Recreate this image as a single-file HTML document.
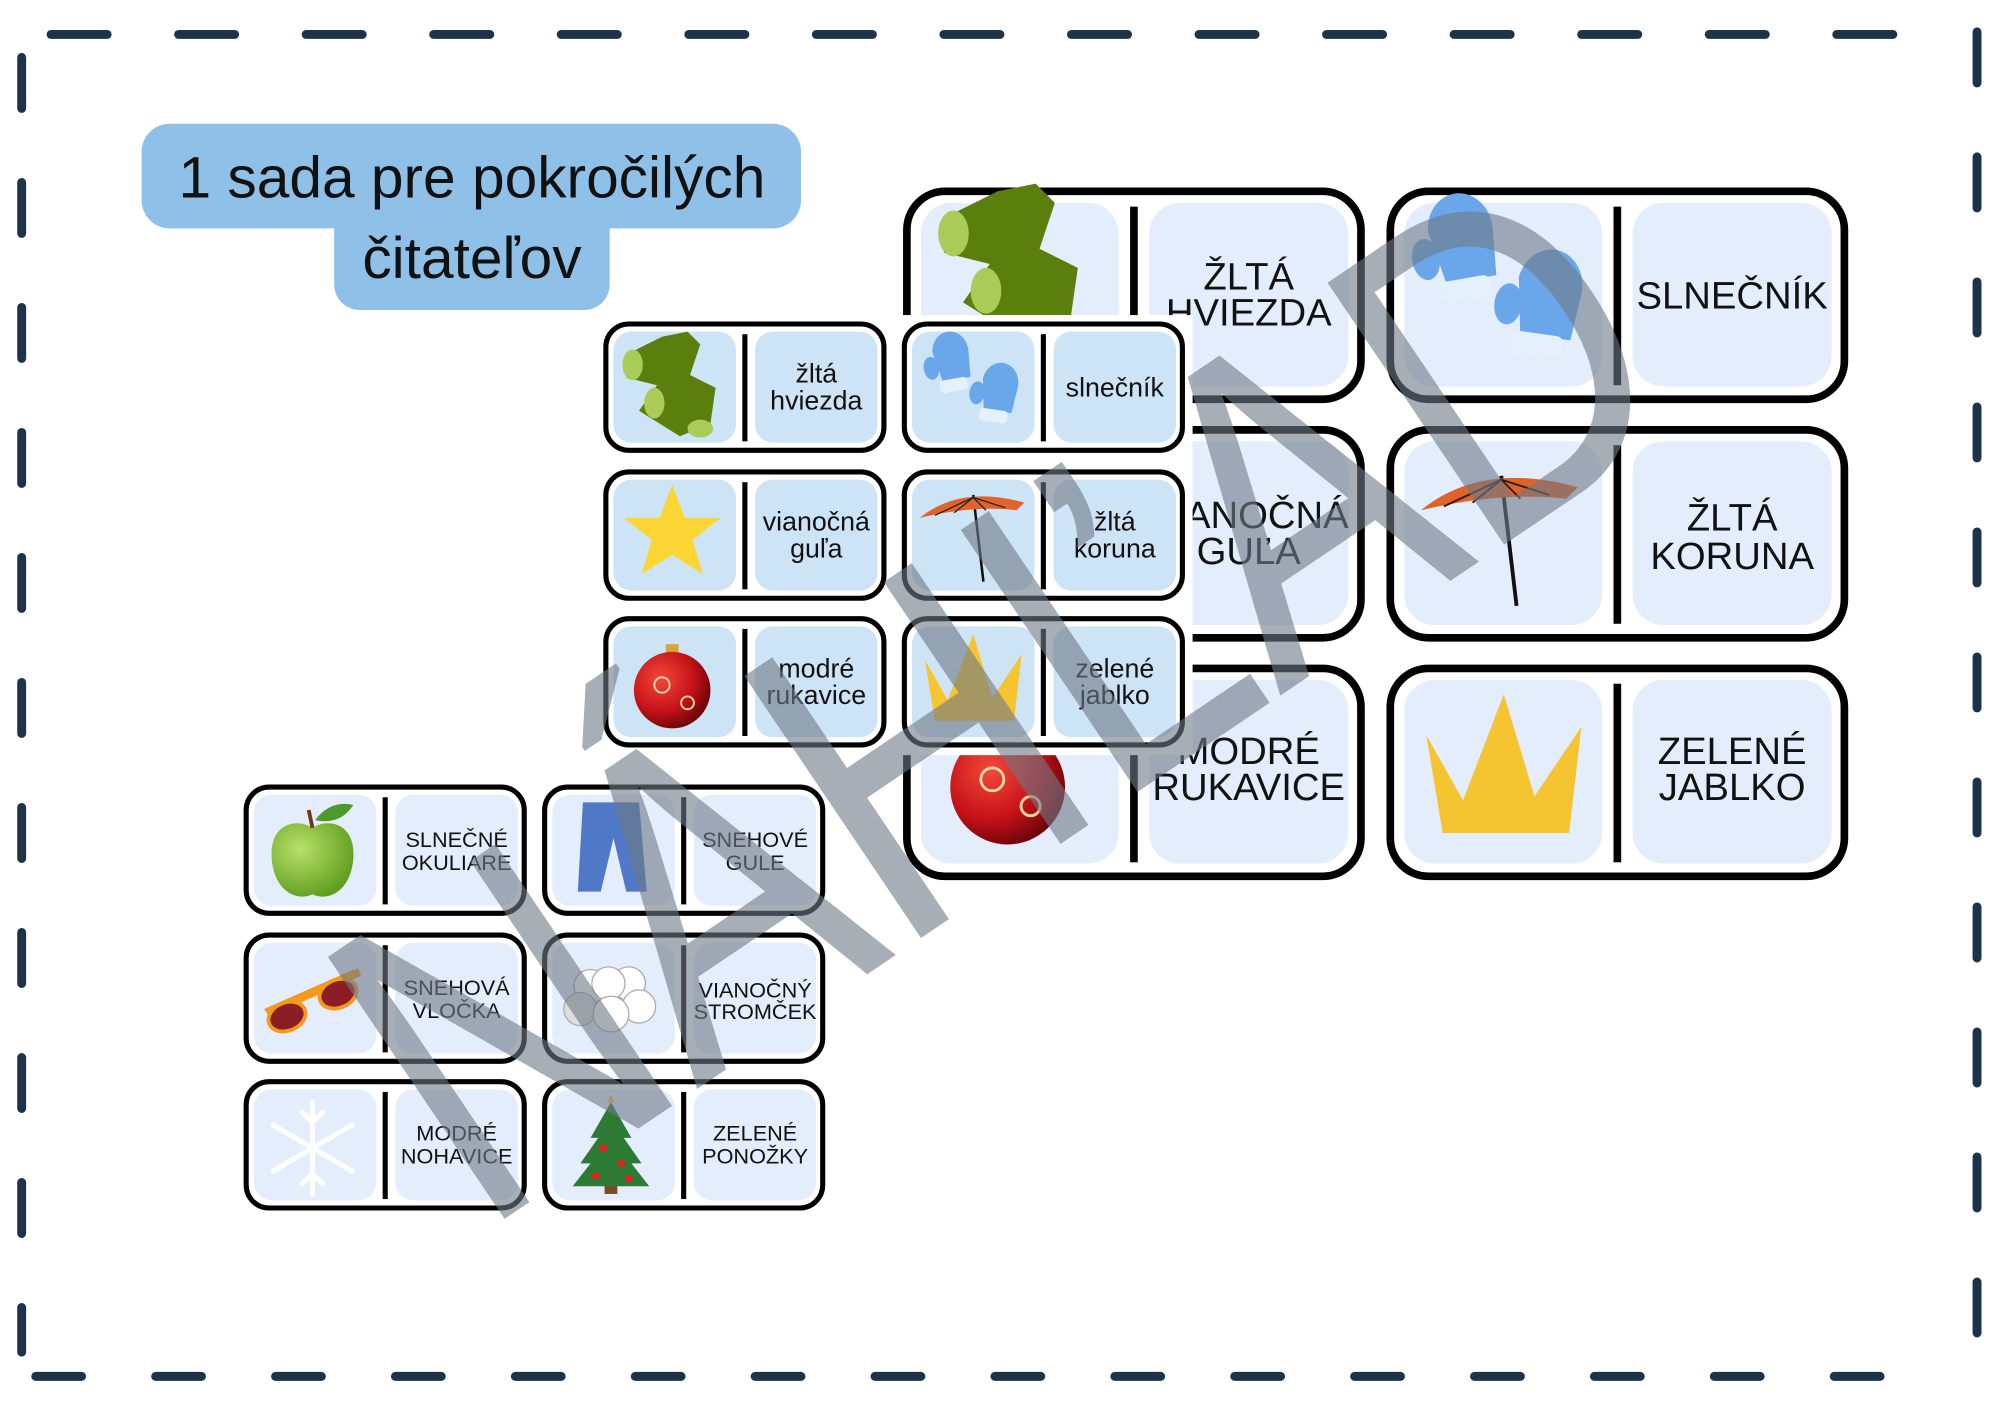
<!DOCTYPE html>
<html><head><meta charset="utf-8"><style>
html,body{margin:0;padding:0;background:#fff;width:2000px;height:1414px;overflow:hidden}
svg{display:block}
text{font-family:"Liberation Sans",sans-serif;fill:#111}
</style></head><body>
<svg width="2000" height="1414" viewBox="0 0 1568 1108.5" preserveAspectRatio="none" xmlns="http://www.w3.org/2000/svg">
<defs>
<radialGradient id="rb" cx="0.35" cy="0.35" r="0.7"><stop offset="0" stop-color="#f04a3a"/><stop offset="0.6" stop-color="#c8121a"/><stop offset="1" stop-color="#6a0508"/></radialGradient>
<radialGradient id="ap" cx="0.35" cy="0.35" r="0.7"><stop offset="0" stop-color="#b9e06a"/><stop offset="1" stop-color="#5f9e1e"/></radialGradient>
<g id="sock">
<path d="M-8,-38 L12,-42 L22,-32 L14,-8 L34,2 L30,30 L6,40 L-26,20 L-12,0 L-36,-6 L-32,-26 Z" fill="#5b7f0c"/>
<ellipse cx="-31" cy="-16" rx="8" ry="12" fill="#a9cb57"/>
<ellipse cx="-14" cy="14" rx="8" ry="12" fill="#a9cb57"/>
<ellipse cx="22" cy="34" rx="10" ry="7" fill="#a9cb57"/>
</g>
<g id="mit"><path d="M-12,-18 a14,16 0 0 1 28,4 l-2,20 h-22 z" fill="#6aa6ea"/><ellipse cx="-15" cy="-6" rx="6" ry="9" fill="#6aa6ea"/><rect x="-11" y="5" width="22" height="10" rx="3" fill="#e4f0fa"/></g>
<g id="mittens"><use href="#mit" transform="translate(-17,-12) rotate(-10)"/><use href="#mit" transform="translate(17,12) rotate(8)"/></g>
<g id="star"><polygon points="0,-38 10,-12 38,-12 16,5 24,32 0,17 -24,32 -16,5 -38,-12 -10,-12" fill="#fbd533"/></g>
<g id="umb"><line x1="0" y1="-22" x2="8" y2="46" stroke="#111" stroke-width="2"/><path d="M-42,-4 Q-10,-30 40,-16 L34,-10 Q0,-14 -42,-4z" fill="#e2632a"/><path d="M-30,-6 L0,-20 M-15,-8 L0,-20 M10,-10 L0,-20 M25,-12 L0,-20" stroke="#222" stroke-width="1"/></g>
<g id="ball"><rect x="-5" y="-36" width="10" height="8" fill="#d4a43a"/><circle r="30" fill="url(#rb)"/><circle cx="-8" cy="-4" r="6" fill="none" stroke="#f3d6a4" stroke-width="1.5"/><circle cx="12" cy="10" r="5" fill="none" stroke="#f3d6a4" stroke-width="1.5"/></g>
<g id="crown"><polygon points="-38,-18 -20,14 0,-38 15,12 38,-22 32,30 -30,30" fill="#f5c531"/></g>
<g id="apple"><path d="M0,-22 C-12,-30 -34,-26 -32,2 C-30,28 -12,36 0,30 C12,36 30,28 32,2 C34,-26 12,-30 0,-22z" fill="url(#ap)"/><path d="M0,-22 L-3,-36" stroke="#6a3a1a" stroke-width="3"/><path d="M2,-28 Q14,-44 32,-40 Q22,-24 2,-28z" fill="#4c9a2a"/></g>
<g id="jeans"><path d="M-22,-36 H22 L28,34 H12 L2,-8 L-8,34 H-26 Z" fill="#4f78c6"/></g>
<g id="sung"><path d="M-38,8 L30,-22 L36,-24 L38,-18 L-34,14z" fill="#f39a1c"/><ellipse cx="-20" cy="14" rx="15" ry="11" fill="#8b1e24" stroke="#f39a1c" stroke-width="3" transform="rotate(-22,-20,14)"/><ellipse cx="20" cy="-4" rx="15" ry="11" fill="#8b1e24" stroke="#f39a1c" stroke-width="3" transform="rotate(-22,20,-4)"/></g>
<g id="snowb" fill="#fff" stroke="#aaa" stroke-width="1"><circle cx="-16" cy="-10" r="13"/><circle cx="14" cy="-12" r="13"/><circle cx="-2" cy="-12" r="13"/><circle cx="-24" cy="8" r="13" fill="#ddd"/><circle cx="22" cy="6" r="13"/><circle cx="0" cy="12" r="14"/></g>
<g id="flake" stroke="#fff" stroke-width="4" stroke-linecap="round"><line x1="0" y1="-36" x2="0" y2="36"/><line x1="-31" y1="-18" x2="31" y2="18"/><line x1="-31" y1="18" x2="31" y2="-18"/><path d="M-8,-28 L0,-20 L8,-28 M-8,28 L0,20 L8,28" fill="none"/></g>
<g id="tree"><rect x="-5" y="28" width="10" height="10" fill="#7a4a22"/><polygon points="0,-34 -16,-6 -10,-6 -24,14 -16,14 -30,32 30,32 16,14 24,14 10,-6 16,-6" fill="#2d7a35"/><circle cx="-6" cy="2" r="3" fill="#d22"/><circle cx="8" cy="14" r="3" fill="#d22"/><circle cx="-12" cy="24" r="3" fill="#d22"/><circle cx="14" cy="26" r="3" fill="#d22"/><polygon points="0,-40 3,-34 -3,-34" fill="#f5c531"/></g>
</defs>

<g stroke="#1c3349" stroke-width="7" stroke-linecap="round" fill="none">
<path d="M40,27 H1540" stroke-dasharray="44,56"/>
<path d="M17,45 V1060" stroke-dasharray="40,58"/>
<path d="M28,1079 H1530" stroke-dasharray="36,58"/>
<path d="M1550,25 V1055" stroke-dasharray="40,58"/>
</g>

<rect x="111" y="97" width="517" height="82" rx="22" fill="#8fc0e8"/>
<rect x="262" y="160" width="216" height="83" rx="20" fill="#8fc0e8"/>
<text x="370" y="155" font-size="46" text-anchor="middle">1 sada pre pokročilých</text>
<text x="370" y="218" font-size="46" text-anchor="middle">čitateľov</text>

<g>
<g transform="translate(708,147)"><rect x="3" y="3" width="356" height="163" rx="30" fill="#fff" stroke="#000" stroke-width="6"/><rect x="14" y="12" width="155" height="144" rx="24" fill="#e3edfc"/><rect x="178" y="15" width="6" height="140" fill="#000"/><rect x="193" y="12" width="156" height="144" rx="24" fill="#e3edfc"/><use href="#sock" transform="translate(86,60) scale(1.5)"/><text x="271" y="80" font-size="30" text-anchor="middle">ŽLTÁ</text><text x="271" y="108" font-size="30" text-anchor="middle">HVIEZDA</text></g>
<g transform="translate(1087,147)"><rect x="3" y="3" width="356" height="163" rx="30" fill="#fff" stroke="#000" stroke-width="6"/><rect x="14" y="12" width="155" height="144" rx="24" fill="#e3edfc"/><rect x="178" y="15" width="6" height="140" fill="#000"/><rect x="193" y="12" width="156" height="144" rx="24" fill="#e3edfc"/><use href="#mittens" transform="translate(90,84) scale(1.8)"/><text x="271" y="95" font-size="30" text-anchor="middle">SLNEČNÍK</text></g>
<g transform="translate(708,334)"><rect x="3" y="3" width="356" height="163" rx="30" fill="#fff" stroke="#000" stroke-width="6"/><rect x="14" y="12" width="155" height="144" rx="24" fill="#e3edfc"/><rect x="178" y="15" width="6" height="140" fill="#000"/><rect x="193" y="12" width="156" height="144" rx="24" fill="#e3edfc"/><text x="271" y="80" font-size="30" text-anchor="middle">VIANOČNÁ</text><text x="271" y="108" font-size="30" text-anchor="middle">GUĽA</text></g>
<g transform="translate(1087,334)"><rect x="3" y="3" width="356" height="163" rx="30" fill="#fff" stroke="#000" stroke-width="6"/><rect x="14" y="12" width="155" height="144" rx="24" fill="#e3edfc"/><rect x="178" y="15" width="6" height="140" fill="#000"/><rect x="193" y="12" width="156" height="144" rx="24" fill="#e3edfc"/><use href="#umb" transform="translate(90,72) scale(1.5)"/><text x="271" y="82" font-size="30" text-anchor="middle">ŽLTÁ</text><text x="271" y="112" font-size="30" text-anchor="middle">KORUNA</text></g>
<g transform="translate(708,521)"><rect x="3" y="3" width="356" height="163" rx="30" fill="#fff" stroke="#000" stroke-width="6"/><rect x="14" y="12" width="155" height="144" rx="24" fill="#e3edfc"/><rect x="178" y="15" width="6" height="140" fill="#000"/><rect x="193" y="12" width="156" height="144" rx="24" fill="#e3edfc"/><use href="#ball" transform="translate(82,96) scale(1.5)"/><text x="271" y="78" font-size="30" text-anchor="middle">MODRÉ</text><text x="271" y="106" font-size="30" text-anchor="middle">RUKAVICE</text></g>
<g transform="translate(1087,521)"><rect x="3" y="3" width="356" height="163" rx="30" fill="#fff" stroke="#000" stroke-width="6"/><rect x="14" y="12" width="155" height="144" rx="24" fill="#e3edfc"/><rect x="178" y="15" width="6" height="140" fill="#000"/><rect x="193" y="12" width="156" height="144" rx="24" fill="#e3edfc"/><use href="#crown" transform="translate(92,84) scale(1.6)"/><text x="271" y="78" font-size="30" text-anchor="middle">ZELENÉ</text><text x="271" y="106" font-size="30" text-anchor="middle">JABLKO</text></g>
</g>

<rect x="468" y="247" width="467" height="345" fill="#fff"/>
<g>
<g transform="translate(473,252)"><rect x="2" y="2" width="218" height="99" rx="18" fill="#fff" stroke="#000" stroke-width="4"/><rect x="8" y="8" width="96" height="87" rx="14" fill="#cde3f6"/><rect x="109" y="10" width="4" height="84" fill="#000"/><rect x="119" y="8" width="96" height="87" rx="14" fill="#cde3f6"/><use href="#sock" transform="translate(54,50)"/><text x="167" y="48" font-size="21" text-anchor="middle">žltá</text><text x="167" y="69" font-size="21" text-anchor="middle">hviezda</text></g>
<g transform="translate(707,252)"><rect x="2" y="2" width="218" height="99" rx="18" fill="#fff" stroke="#000" stroke-width="4"/><rect x="8" y="8" width="96" height="87" rx="14" fill="#cde3f6"/><rect x="109" y="10" width="4" height="84" fill="#000"/><rect x="119" y="8" width="96" height="87" rx="14" fill="#cde3f6"/><use href="#mittens" transform="translate(56,52)"/><text x="167" y="59" font-size="21" text-anchor="middle">slnečník</text></g>
<g transform="translate(473,368)"><rect x="2" y="2" width="218" height="99" rx="18" fill="#fff" stroke="#000" stroke-width="4"/><rect x="8" y="8" width="96" height="87" rx="14" fill="#cde3f6"/><rect x="109" y="10" width="4" height="84" fill="#000"/><rect x="119" y="8" width="96" height="87" rx="14" fill="#cde3f6"/><use href="#star" transform="translate(54,50)"/><text x="167" y="48" font-size="21" text-anchor="middle">vianočná</text><text x="167" y="69" font-size="21" text-anchor="middle">guľa</text></g>
<g transform="translate(707,368)"><rect x="2" y="2" width="218" height="99" rx="18" fill="#fff" stroke="#000" stroke-width="4"/><rect x="8" y="8" width="96" height="87" rx="14" fill="#cde3f6"/><rect x="109" y="10" width="4" height="84" fill="#000"/><rect x="119" y="8" width="96" height="87" rx="14" fill="#cde3f6"/><use href="#umb" transform="translate(56,42)"/><text x="167" y="48" font-size="21" text-anchor="middle">žltá</text><text x="167" y="69" font-size="21" text-anchor="middle">koruna</text></g>
<g transform="translate(473,483)"><rect x="2" y="2" width="218" height="99" rx="18" fill="#fff" stroke="#000" stroke-width="4"/><rect x="8" y="8" width="96" height="87" rx="14" fill="#cde3f6"/><rect x="109" y="10" width="4" height="84" fill="#000"/><rect x="119" y="8" width="96" height="87" rx="14" fill="#cde3f6"/><use href="#ball" transform="translate(54,58)"/><text x="167" y="48" font-size="21" text-anchor="middle">modré</text><text x="167" y="69" font-size="21" text-anchor="middle">rukavice</text></g>
<g transform="translate(707,483)"><rect x="2" y="2" width="218" height="99" rx="18" fill="#fff" stroke="#000" stroke-width="4"/><rect x="8" y="8" width="96" height="87" rx="14" fill="#cde3f6"/><rect x="109" y="10" width="4" height="84" fill="#000"/><rect x="119" y="8" width="96" height="87" rx="14" fill="#cde3f6"/><use href="#crown" transform="translate(56,52)"/><text x="167" y="48" font-size="21" text-anchor="middle">zelené</text><text x="167" y="69" font-size="21" text-anchor="middle">jablko</text></g>
</g>

<g>
<g transform="translate(191,615)"><rect x="2" y="2" width="218" height="99" rx="18" fill="#fff" stroke="#000" stroke-width="4"/><rect x="8" y="8" width="96" height="87" rx="14" fill="#e3edfc"/><rect x="109" y="10" width="4" height="84" fill="#000"/><rect x="119" y="8" width="96" height="87" rx="14" fill="#e3edfc"/><use href="#apple" transform="translate(54,56)"/><text x="167" y="49" font-size="17" text-anchor="middle">SLNEČNÉ</text><text x="167" y="67" font-size="17" text-anchor="middle">OKULIARE</text></g>
<g transform="translate(425,615)"><rect x="2" y="2" width="218" height="99" rx="18" fill="#fff" stroke="#000" stroke-width="4"/><rect x="8" y="8" width="96" height="87" rx="14" fill="#e3edfc"/><rect x="109" y="10" width="4" height="84" fill="#000"/><rect x="119" y="8" width="96" height="87" rx="14" fill="#e3edfc"/><use href="#jeans" transform="translate(54,50)"/><text x="167" y="49" font-size="17" text-anchor="middle">SNEHOVÉ</text><text x="167" y="67" font-size="17" text-anchor="middle">GULE</text></g>
<g transform="translate(191,731)"><rect x="2" y="2" width="218" height="99" rx="18" fill="#fff" stroke="#000" stroke-width="4"/><rect x="8" y="8" width="96" height="87" rx="14" fill="#e3edfc"/><rect x="109" y="10" width="4" height="84" fill="#000"/><rect x="119" y="8" width="96" height="87" rx="14" fill="#e3edfc"/><use href="#sung" transform="translate(54,52)"/><text x="167" y="49" font-size="17" text-anchor="middle">SNEHOVÁ</text><text x="167" y="67" font-size="17" text-anchor="middle">VLOČKA</text></g>
<g transform="translate(425,731)"><rect x="2" y="2" width="218" height="99" rx="18" fill="#fff" stroke="#000" stroke-width="4"/><rect x="8" y="8" width="96" height="87" rx="14" fill="#e3edfc"/><rect x="109" y="10" width="4" height="84" fill="#000"/><rect x="119" y="8" width="96" height="87" rx="14" fill="#e3edfc"/><use href="#snowb" transform="translate(54,52)"/><text x="167" y="51" font-size="17" text-anchor="middle">VIANOČNÝ</text><text x="167" y="68" font-size="17" text-anchor="middle">STROMČEK</text></g>
<g transform="translate(191,846)"><rect x="2" y="2" width="218" height="99" rx="18" fill="#fff" stroke="#000" stroke-width="4"/><rect x="8" y="8" width="96" height="87" rx="14" fill="#e3edfc"/><rect x="109" y="10" width="4" height="84" fill="#000"/><rect x="119" y="8" width="96" height="87" rx="14" fill="#e3edfc"/><use href="#flake" transform="translate(54,54)"/><text x="167" y="48" font-size="17" text-anchor="middle">MODRÉ</text><text x="167" y="66" font-size="17" text-anchor="middle">NOHAVICE</text></g>
<g transform="translate(425,846)"><rect x="2" y="2" width="218" height="99" rx="18" fill="#fff" stroke="#000" stroke-width="4"/><rect x="8" y="8" width="96" height="87" rx="14" fill="#e3edfc"/><rect x="109" y="10" width="4" height="84" fill="#000"/><rect x="119" y="8" width="96" height="87" rx="14" fill="#e3edfc"/><use href="#tree" transform="translate(54,52)"/><text x="167" y="48" font-size="17" text-anchor="middle">ZELENÉ</text><text x="167" y="66" font-size="17" text-anchor="middle">PONOŽKY</text></g>
</g>

<text x="0" y="0" font-size="360" text-anchor="middle" textLength="1150" lengthAdjust="spacingAndGlyphs" transform="translate(853,647) rotate(-34)" style="fill:#6f7a86;opacity:0.6">NÁHĽAD</text>
</svg>
</body></html>
